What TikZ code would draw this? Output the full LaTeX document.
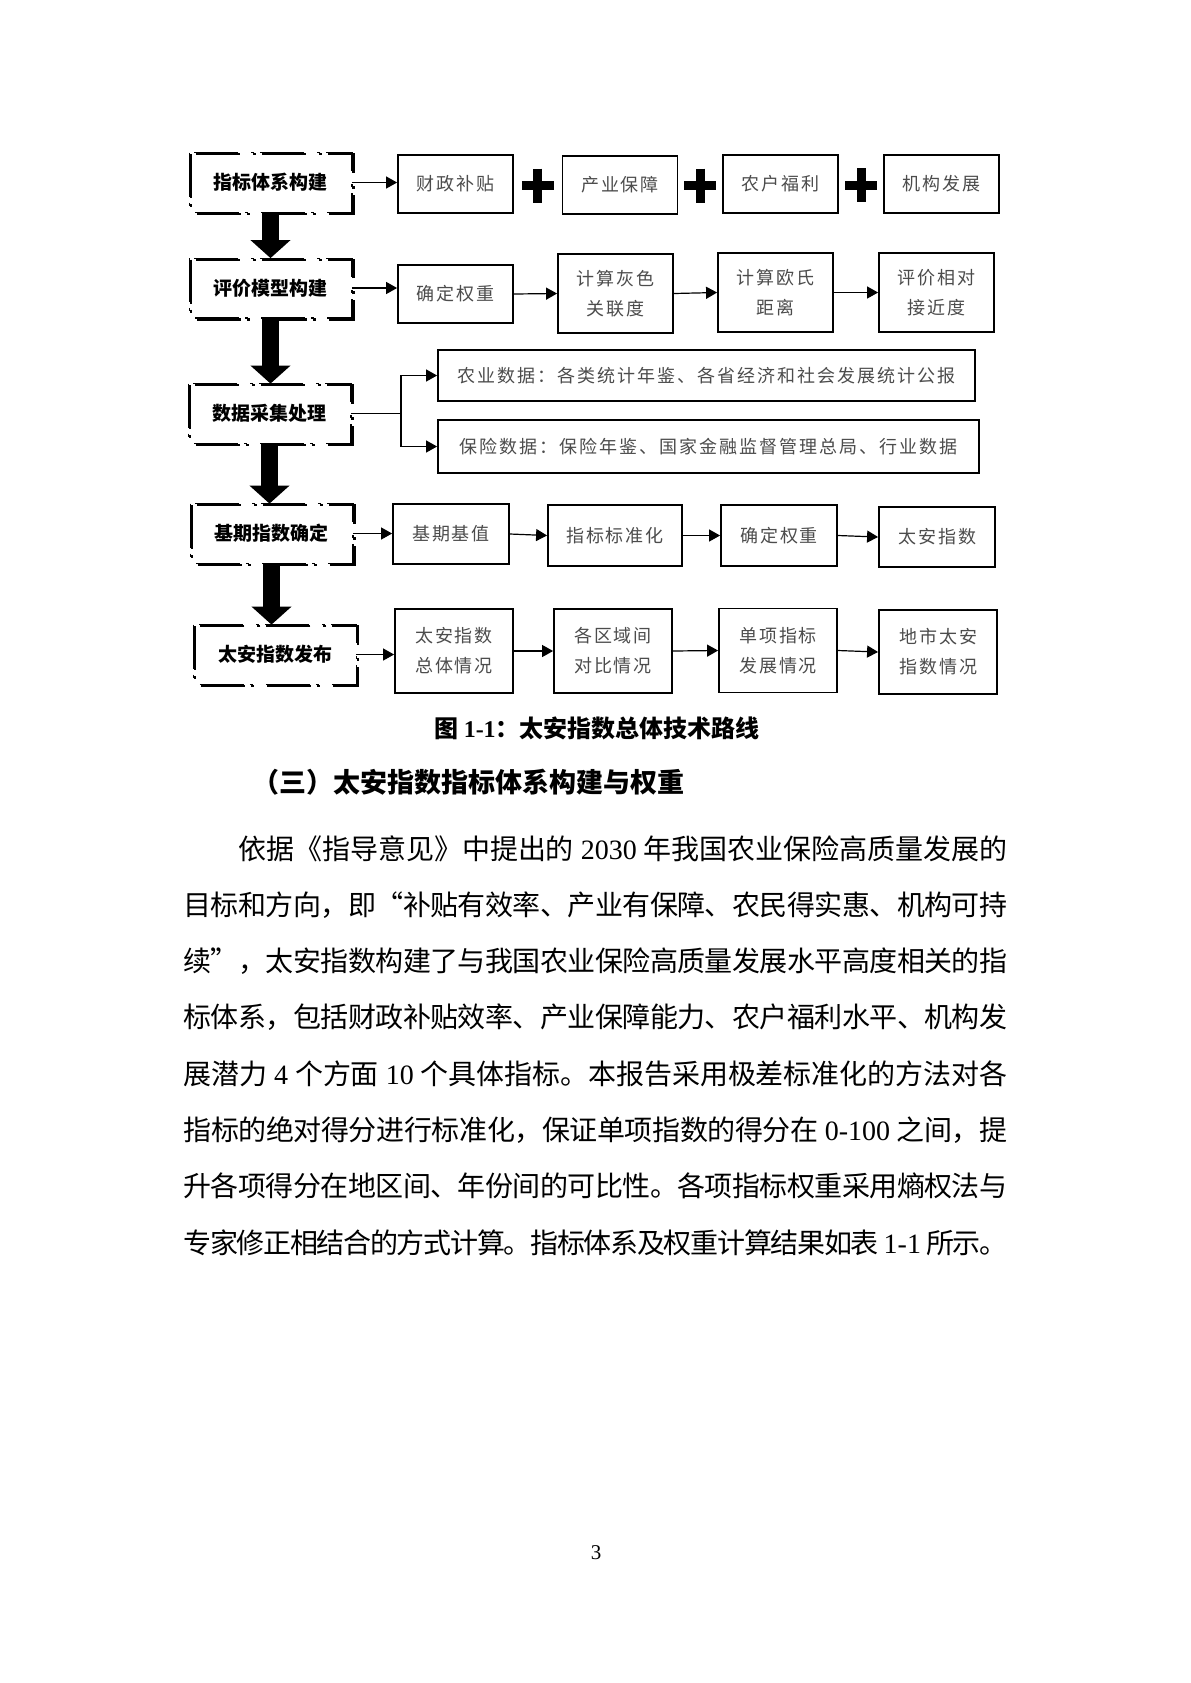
\documentclass[tikz,border=0pt]{standalone}
\usepackage{fontspec}
\setmainfont{Noto Sans CJK SC}
\newfontfamily\latin{Liberation Serif}
\usetikzlibrary{arrows.meta,calc}

\makeatletter
\newcommand\ls[1]{\@tfor\ch:=#1\do{{\ch}\hskip1pt}\unskip}
\newcommand\spreadline[2]{\hbox to #1{\@tfor\ch:=#2\do{{\ch}\hskip0pt plus 1fil minus 2pt}\unskip}}
\makeatother

\tikzset{
  stepbox/.style={minimum width=81pt, minimum height=29.5pt, inner sep=0pt, font=\fontsize{9.5pt}{11pt}\selectfont\bfseries},
  dashdot/.style={dash pattern=on 22pt off 3pt on 1.5pt off 6.5pt},
  box/.style={draw, line width=0.9pt, inner sep=0pt, align=center, minimum width=57.5pt, minimum height=29pt,
    text=black!70, font=\fontsize{9pt}{15pt}\selectfont},
  arr/.style={line width=0.6pt, -{Triangle[length=5.5pt,width=6pt]}},
  bigarrow/.style={line width=8.5pt, -{Triangle[length=9pt,width=19.5pt]}},
  plusbar/.style={line width=4.5pt},
  body/.style={anchor=base west, inner sep=0pt, font=\fontsize{14pt}{16pt}\selectfont}
}

\begin{document}
\begin{tikzpicture}[x=0.5pt, y=-0.5pt]

\fill[white] (0,0) rectangle (1190,1683);
\useasboundingbox (0,0) rectangle (1190,1683);

% steps on the left
\node[stepbox] (s1) at (270.5,182.5) {指标体系构建};
\node[stepbox] (s2) at (270.5,288) {评价模型构建};
\node[stepbox] (s3) at (269.5,413.5) {数据采集处理};
\node[stepbox] (s4) at (271.5,533.5) {基期指数确定};
\node[stepbox] (s5) at (275,654.5) {太安指数发布};

\foreach \n in {s1,s2,s3,s4,s5} {
  \draw[dashdot, line width=1.1pt] ([shift={(1.5,1.5)}]\n.north west) rectangle ([shift={(1.5,1.5)}]\n.south east);
  \draw[dashdot, line width=0.6pt] (\n.north west) rectangle (\n.south east);
}

\foreach \a/\b in {s1/s2, s2/s3, s3/s4, s4/s5}
  \draw[bigarrow] (\a.south) -- (\a.south |- \b.north);

% row 1
\node[box] (f1) at (455.5,184) {\ls{财政补贴}};
\node[box] (f2) at (620,185) {\ls{产业保障}};
\node[box] (f3) at (780.5,184) {\ls{农户福利}};
\node[box] (f4) at (941.5,184) {\ls{机构发展}};

\draw[arr] (s1.east) -- (s1.east -| f1.west);

\foreach \a/\b in {f1/f2, f2/f3, f3/f4} {
  \coordinate (c) at ($(\a.east)!0.5!(\b.west)$);
  \draw[plusbar] ($(c)+(-16,1)$) -- ($(c)+(16,1)$);
  \draw[plusbar] ($(c)+(0,-16)$) -- ($(c)+(0,18)$);
}

% row 2
\node[box] (m1) at (455.5,294) {\ls{确定权重}};
\node[box, minimum height=39.5pt] (m2) at (615.5,293.5) {\ls{计算灰色}\\\ls{关联度}};
\node[box, minimum height=39.5pt] (m3) at (775.5,292.5) {\ls{计算欧氏}\\\ls{距离}};
\node[box, minimum height=39.5pt] (m4) at (936.5,292.5) {\ls{评价相对}\\\ls{接近度}};

\draw[arr] (s2.east) -- (s2.east -| m1.west);
\draw[arr] (m1.east) -- (m2.west);
\draw[arr] (m2.east) -- (m3.west);
\draw[arr] (m3.east) -- (m4.west);

% row 3
\node[box, minimum width=268.5pt, minimum height=25.5pt] (d1) at (706.5,375.5)
  {\ls{农业数据：各类统计年鉴、各省经济和社会发展统计公报}};
\node[box, minimum width=270.5pt, minimum height=26.5pt] (d2) at (708.5,446.5)
  {\ls{保险数据：保险年鉴、国家金融监督管理总局、行业数据}};

\coordinate (j) at ($(s3.east)+(50,0)$);
\draw[line width=0.6pt] (s3.east) -- (j);
\draw[arr] (j) |- (d1.west);
\draw[arr] (j) |- (d2.west);

% row 4
\node[box, minimum width=58pt, minimum height=30pt] (b1) at (451,534) {\ls{基期基值}};
\node[box, minimum width=67pt, minimum height=30.5pt] (b2) at (615,535.5) {\ls{指标标准化}};
\node[box, minimum width=58pt, minimum height=30.5pt] (b3) at (779,535.5) {\ls{确定权重}};
\node[box, minimum width=58pt, minimum height=30pt] (b4) at (937,537) {\ls{太安指数}};

\draw[arr] (s4.east) -- (s4.east -| b1.west);
\draw[arr] (b1.east) -- (b2.west);
\draw[arr] (b2.east) -- (b3.west);
\draw[arr] (b3.east) -- (b4.west);

% row 5
\node[box, minimum width=59pt, minimum height=42pt] (r1) at (454,651) {\ls{太安指数}\\\ls{总体情况}};
\node[box, minimum width=59pt, minimum height=42pt] (r2) at (613,651) {\ls{各区域间}\\\ls{对比情况}};
\node[box, minimum width=59pt, minimum height=42pt] (r3) at (778,650.5) {\ls{单项指标}\\\ls{发展情况}};
\node[box, minimum width=59pt, minimum height=42pt] (r4) at (938,652) {\ls{地市太安}\\\ls{指数情况}};

\draw[arr] (s5.east) -- (s5.east -| r1.west);
\draw[arr] (r1.east) -- (r2.west);
\draw[arr] (r2.east) -- (r3.west);
\draw[arr] (r3.east) -- (r4.west);

% caption, heading and text
\node[font=\fontsize{12pt}{14pt}\selectfont\bfseries] (cap) at (597,728)
  {图 {\latin\bfseries 1-1}：太安指数总体技术路线};
\node[anchor=west, inner sep=0pt, font=\fontsize{13.5pt}{16pt}\selectfont\bfseries] (sec) at (252,782)
  {（三）太安指数指标体系构建与权重};

\node[body] (l1) at (238,859) {\spreadline{384.5pt}{依据《指导意见》中提出的{\latin\ 2030\ }年我国农业保险高质量发展的}};
\node[body] (l2) at (183,915.3) {\spreadline{412pt}{目标和方向，即“补贴有效率、产业有保障、农民得实惠、机构可持}};
\node[body] (l3) at (183,971.6) {\spreadline{412pt}{续”，太安指数构建了与我国农业保险高质量发展水平高度相关的指}};
\node[body] (l4) at (183,1027.9) {\spreadline{412pt}{标体系，包括财政补贴效率、产业保障能力、农户福利水平、机构发}};
\node[body] (l5) at (183,1084.2) {\spreadline{412pt}{展潜力{\latin\ 4\ }个方面{\latin\ 10\ }个具体指标。本报告采用极差标准化的方法对各}};
\node[body] (l6) at (183,1140.5) {\spreadline{412pt}{指标的绝对得分进行标准化，保证单项指数的得分在{\latin\ 0-100\ }之间，提}};
\node[body] (l7) at (183,1196.8) {\spreadline{412pt}{升各项得分在地区间、年份间的可比性。各项指标权重采用熵权法与}};
\node[body] (l8) at (183,1253.1) {\spreadline{412pt}{专家修正相结合的方式计算。指标体系及权重计算结果如表{\latin\ 1-1\ }所示。}};

\node[font=\latin\fontsize{10.5pt}{12pt}\selectfont] (pg) at (596,1553) {3};

\end{tikzpicture}
\end{document}
